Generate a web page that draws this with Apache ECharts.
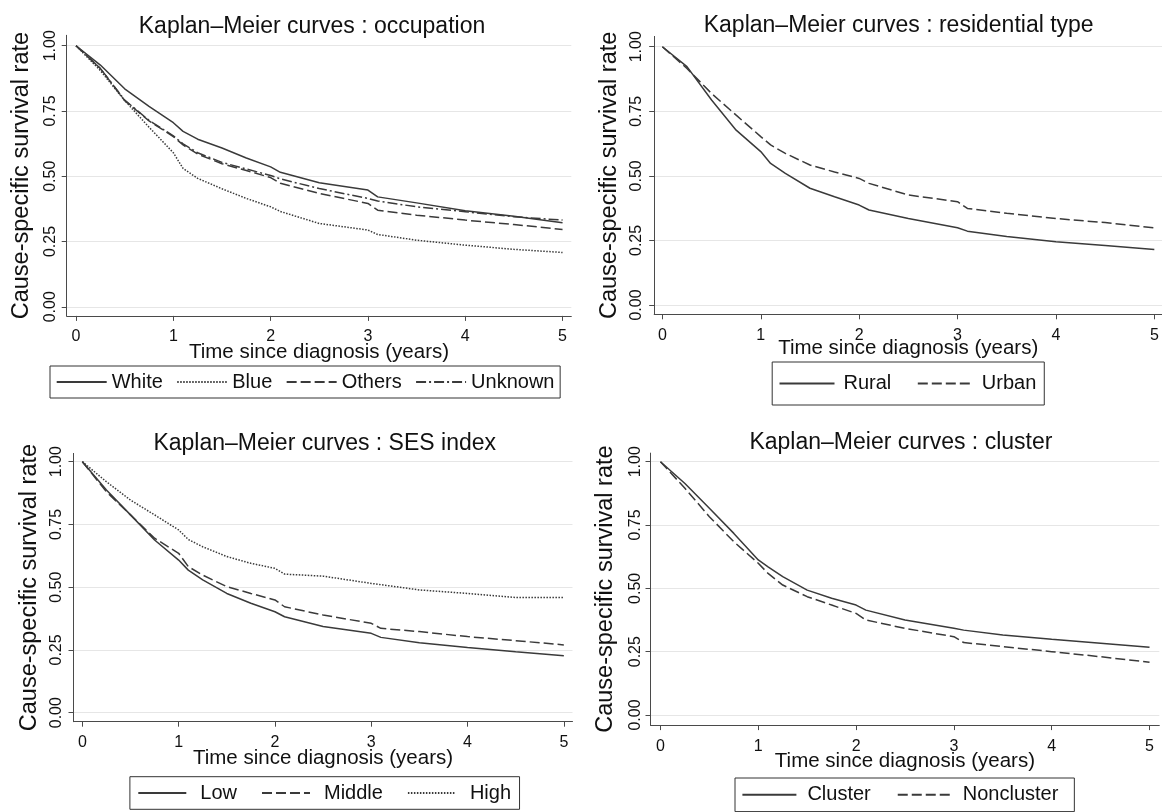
<!DOCTYPE html>
<html><head><meta charset="utf-8">
<script src="https://cdn.jsdelivr.net/npm/echarts@6/dist/echarts.min.js"></script>
<style>html,body{margin:0;padding:0;background:#fff}#c{width:1162px;height:812px}</style>
</head><body><div id="c"></div><script>
// Shared time grid (years since diagnosis)
const times = [0, 0.25, 0.5, 0.75, 1, 1.1, 1.25, 1.5, 1.75, 2, 2.1, 2.5, 3, 3.1, 3.5, 4, 4.5, 5];
const xTicks = [0, 1, 2, 3, 4, 5];
const yTicks = [0, 0.25, 0.5, 0.75, 1];
const panelTitles = ['Kaplan\u2013Meier curves : occupation', 'Kaplan\u2013Meier curves : residential type',
                     'Kaplan\u2013Meier curves : SES index', 'Kaplan\u2013Meier curves : cluster'];
const yTitle = 'Cause-specific survival rate';
const xTitle = 'Time since diagnosis (years)';

// occupation
const occWhite   = [1, 0.926, 0.835, 0.768, 0.705, 0.672, 0.642, 0.608, 0.570, 0.536, 0.515, 0.475, 0.447, 0.421, 0.398, 0.368, 0.347, 0.322];
const occBlue    = [1, 0.905, 0.790, 0.688, 0.590, 0.530, 0.492, 0.452, 0.415, 0.383, 0.365, 0.319, 0.294, 0.277, 0.255, 0.236, 0.220, 0.208];
const occOthers  = [1, 0.913, 0.790, 0.712, 0.652, 0.620, 0.585, 0.548, 0.522, 0.495, 0.473, 0.434, 0.396, 0.370, 0.351, 0.332, 0.315, 0.296];
const occUnknown = [1, 0.913, 0.792, 0.714, 0.655, 0.624, 0.590, 0.553, 0.528, 0.503, 0.490, 0.453, 0.415, 0.405, 0.383, 0.364, 0.345, 0.332];
// residential type
const resRural   = [1, 0.923, 0.794, 0.677, 0.594, 0.548, 0.510, 0.452, 0.419, 0.387, 0.368, 0.335, 0.299, 0.286, 0.265, 0.245, 0.230, 0.215];
const resUrban   = [1, 0.916, 0.819, 0.735, 0.652, 0.620, 0.587, 0.542, 0.515, 0.490, 0.471, 0.426, 0.400, 0.374, 0.355, 0.335, 0.319, 0.299];
// SES index
const sesLow     = [1, 0.887, 0.788, 0.688, 0.608, 0.568, 0.529, 0.475, 0.436, 0.402, 0.382, 0.343, 0.316, 0.300, 0.279, 0.260, 0.243, 0.227];
const sesMiddle  = [1, 0.880, 0.788, 0.695, 0.635, 0.582, 0.548, 0.502, 0.475, 0.449, 0.422, 0.389, 0.356, 0.336, 0.323, 0.303, 0.287, 0.270];
const sesHigh    = [1, 0.920, 0.847, 0.788, 0.728, 0.690, 0.661, 0.622, 0.595, 0.575, 0.552, 0.544, 0.515, 0.510, 0.489, 0.475, 0.459, 0.459];
// cluster
const cluCluster = [1, 0.914, 0.816, 0.717, 0.612, 0.585, 0.546, 0.493, 0.461, 0.434, 0.414, 0.375, 0.342, 0.335, 0.316, 0.299, 0.283, 0.267];
const cluNon     = [1, 0.895, 0.783, 0.684, 0.599, 0.559, 0.513, 0.467, 0.434, 0.401, 0.375, 0.342, 0.309, 0.286, 0.270, 0.250, 0.230, 0.208];

const FONT = '"Liberation Sans", Arial, sans-serif';
const LINE = '#3a3a3a';
const SOLID = 'solid', DOT = [1.5, 1.5], DASH = [10, 4], DASHDOT = [10, 3, 2, 3];

const panels = [
  { grid: {left: 66.7, top: 35.3, width: 504.6, height: 280.6}, xmin: -0.096, xmax: 5.09, ymin: -0.035, ymax: 1.04,
    title: {x: 307, y: 10}, yGap: 33, yMargin: 8.5, xGap: 25.5,
    series: [['White', occWhite, SOLID], ['Blue', occBlue, DOT], ['Others', occOthers, DASH], ['Unknown', occUnknown, DASHDOT]],
    legend: {left: 50, top: 366, padding: [6, 5.7, 6, 5.7], itemGap: 13.4, itemWidth: 50, textPad: 0} },
  { grid: {left: 654.2, top: 36.4, width: 508.0, height: 277.9}, xmin: -0.083, xmax: 5.08, ymin: -0.036, ymax: 1.04,
    title: {x: 893.7, y: 9}, yGap: 32.5, yMargin: 9.5, xGap: 23.5,
    series: [['Rural', resRural, SOLID], ['Urban', resUrban, DASH]],
    legend: {left: 772.2, top: 362, padding: [11.5, 8, 11.5, 6.3], itemGap: 25.5, itemWidth: 55, textPad: 4} },
  { grid: {left: 73.5, top: 453.4, width: 499.0, height: 268.3}, xmin: -0.092, xmax: 5.09, ymin: -0.036, ymax: 1.033,
    title: {x: 319.7, y: 427}, yGap: 32, yMargin: 8.8, xGap: 26,
    series: [['Low', sesLow, SOLID], ['Middle', sesMiddle, DASH], ['High', sesHigh, DOT]],
    legend: {left: 129.9, top: 776.7, padding: [6.3, 8.5, 6.3, 7.4], itemGap: 24, itemWidth: 48, textPad: 9} },
  { grid: {left: 650.5, top: 453.1, width: 508.8, height: 272.0}, xmin: -0.102, xmax: 5.1, ymin: -0.04, ymax: 1.034,
    title: {x: 895.9, y: 426}, yGap: 32.5, yMargin: 7, xGap: 26,
    series: [['Cluster', cluCluster, SOLID], ['Noncluster', cluNon, DASH]],
    legend: {left: 735, top: 778, padding: [6.8, 16, 6.8, 6.4], itemGap: 26, itemWidth: 54, textPad: 6} }
];

const option = {
  animation: false,
  backgroundColor: '#fff',
  textStyle: {fontFamily: FONT},
  title: [], grid: [], xAxis: [], yAxis: [], legend: [], series: []
};

panels.forEach((p, i) => {
  option.title.push({
    text: panelTitles[i], left: p.title.x, top: p.title.y, textAlign: 'center',
    textStyle: {fontFamily: FONT, fontSize: 23, fontWeight: 'normal', color: '#111'}
  });
  option.grid.push(Object.assign({containLabel: false, outerBoundsMode: 'none'}, p.grid));
  option.xAxis.push({
    type: 'value', gridIndex: i, min: p.xmin, max: p.xmax,
    name: xTitle, nameLocation: 'middle', nameGap: p.xGap, nameMoveOverlap: false,
    nameTextStyle: {fontFamily: FONT, fontSize: 20.5, color: '#111'},
    axisLine: {show: true, onZero: false, lineStyle: {color: '#4a4a4a', width: 1}},
    axisTick: {show: true, length: 5, customValues: xTicks, lineStyle: {color: '#4a4a4a'}},
    axisLabel: {customValues: xTicks, margin: 13, fontFamily: FONT, fontSize: 16, color: '#111'},
    splitLine: {show: false}
  });
  option.yAxis.push({
    type: 'value', gridIndex: i, min: p.ymin, max: p.ymax,
    name: yTitle, nameLocation: 'middle', nameGap: p.yGap, nameMoveOverlap: false,
    nameTextStyle: {fontFamily: FONT, fontSize: 23.5, color: '#111'},
    axisLine: {show: true, onZero: false, lineStyle: {color: '#4a4a4a', width: 1}},
    axisTick: {show: true, length: 5, customValues: yTicks, lineStyle: {color: '#4a4a4a'}},
    axisLabel: {customValues: yTicks, rotate: 90, margin: p.yMargin, fontFamily: FONT, fontSize: 16, color: '#111',
                formatter: v => v.toFixed(2)},
    splitLine: {show: true, lineStyle: {color: '#e6e6e6', width: 1}}
  });
  option.legend.push({
    data: p.series.map(s => s[0]), orient: 'horizontal',
    left: p.legend.left, top: p.legend.top, padding: p.legend.padding, itemGap: p.legend.itemGap,
    itemWidth: p.legend.itemWidth, itemHeight: 14,
    borderColor: '#333', borderWidth: 1, borderRadius: 0, backgroundColor: '#fff',
    itemStyle: {opacity: 0},
    lineStyle: {opacity: 1},
    textStyle: {fontFamily: FONT, fontSize: 20, color: '#111', padding: [0, 0, 0, p.legend.textPad]},
    selectedMode: false
  });
  p.series.forEach(s => {
    option.series.push({
      name: s[0], type: 'line', xAxisIndex: i, yAxisIndex: i,
      data: times.map((t, k) => [t, s[1][k]]),
      symbol: 'none', showSymbol: false, smooth: false,
      lineStyle: {color: LINE, width: 1.5, type: s[2]},
      itemStyle: {color: LINE}
    });
  });
});

const chart = echarts.init(document.getElementById('c'), null, {renderer: 'canvas'});
chart.setOption(option);
</script></body></html>
